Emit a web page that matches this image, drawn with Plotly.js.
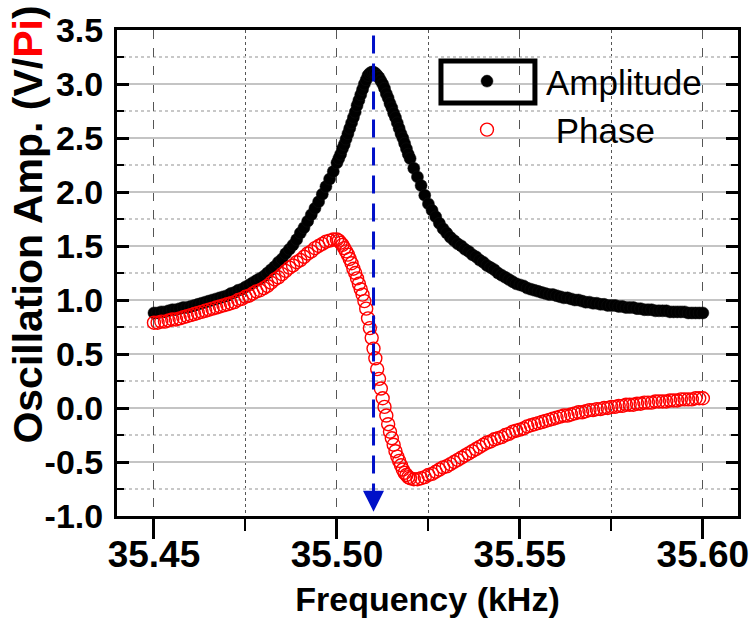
<!DOCTYPE html>
<html>
<head>
<meta charset="utf-8">
<script src="https://cdn.plot.ly/plotly-3.0.1.min.js"></script>
<style>html,body{margin:0;padding:0;background:#fff;}#chart{width:754px;height:618px;}</style>
</head>
<body>
<div id="chart"></div>
<script>
// Frequency samples (kHz)
const freq = [
  35.450, 35.451, 35.452, 35.453, 35.454, 35.455, 35.456, 35.457, 35.458, 35.459,
  35.460, 35.461, 35.462, 35.463, 35.464, 35.465, 35.466, 35.467, 35.468, 35.469,
  35.470, 35.471, 35.472, 35.473, 35.474, 35.475, 35.476, 35.477, 35.478, 35.479,
  35.480, 35.481, 35.482, 35.483, 35.484, 35.485, 35.486, 35.487, 35.488, 35.489,
  35.490, 35.491, 35.492, 35.493, 35.494, 35.495, 35.496, 35.497, 35.498, 35.499,
  35.5000, 35.5005, 35.5010, 35.5015, 35.5020, 35.5025, 35.5030, 35.5035, 35.5040, 35.5045,
  35.5050, 35.5055, 35.5060, 35.5065, 35.5070, 35.5075, 35.5080, 35.5085, 35.5090, 35.5095,
  35.5100, 35.5105, 35.5110, 35.5115, 35.5120, 35.5125, 35.5130, 35.5135, 35.5140, 35.5145,
  35.5150, 35.5155, 35.5160, 35.5165, 35.5170, 35.5175, 35.5180, 35.5185, 35.5190, 35.5195,
  35.5200,
  35.521, 35.522, 35.523, 35.524, 35.525, 35.526, 35.527, 35.528, 35.529, 35.530,
  35.531, 35.532, 35.533, 35.534, 35.535, 35.536, 35.537, 35.538, 35.539, 35.540,
  35.541, 35.542, 35.543, 35.544, 35.545, 35.546, 35.547, 35.548, 35.549, 35.550,
  35.551, 35.552, 35.553, 35.554, 35.555, 35.556, 35.557, 35.558, 35.559, 35.560,
  35.561, 35.562, 35.563, 35.564, 35.565, 35.566, 35.567, 35.568, 35.569, 35.570,
  35.571, 35.572, 35.573, 35.574, 35.575, 35.576, 35.577, 35.578, 35.579, 35.580,
  35.581, 35.582, 35.583, 35.584, 35.585, 35.586, 35.587, 35.588, 35.589, 35.590,
  35.591, 35.592, 35.593, 35.594, 35.595, 35.596, 35.597, 35.598, 35.599, 35.600
];

// Oscillation amplitude (V)
const amplitude = [
  0.88, 0.88, 0.89, 0.89, 0.90, 0.91, 0.91, 0.92, 0.93, 0.93,
  0.94, 0.95, 0.96, 0.97, 0.98, 0.99, 1.00, 1.01, 1.02, 1.03,
  1.04, 1.06, 1.07, 1.09, 1.10, 1.12, 1.14, 1.16, 1.18, 1.20,
  1.22, 1.25, 1.28, 1.31, 1.35, 1.38, 1.43, 1.47, 1.51, 1.56,
  1.62, 1.67, 1.73, 1.79, 1.85, 1.91, 1.98, 2.05, 2.12, 2.19,
  2.27, 2.31, 2.35, 2.40, 2.44, 2.49, 2.54, 2.59, 2.64, 2.69,
  2.74, 2.80, 2.85, 2.90, 2.95, 3.00, 3.04, 3.08, 3.10, 3.11,
  3.11, 3.10, 3.08, 3.06, 3.03, 3.00, 2.96, 2.91, 2.87, 2.82,
  2.78, 2.73, 2.69, 2.64, 2.59, 2.54, 2.50, 2.45, 2.40, 2.35,
  2.31,
  2.22, 2.14, 2.06, 1.97, 1.89, 1.83, 1.77, 1.71, 1.66, 1.62,
  1.58, 1.55, 1.52, 1.50, 1.47, 1.45, 1.42, 1.40, 1.37, 1.35,
  1.32, 1.30, 1.28, 1.25, 1.23, 1.21, 1.19, 1.17, 1.15, 1.14,
  1.13, 1.11, 1.10, 1.09, 1.08, 1.07, 1.06, 1.05, 1.05, 1.04,
  1.03, 1.02, 1.02, 1.01, 1.00, 1.00, 0.99, 0.98, 0.98, 0.97,
  0.97, 0.96, 0.96, 0.95, 0.95, 0.95, 0.94, 0.94, 0.93, 0.93,
  0.93, 0.92, 0.92, 0.91, 0.91, 0.91, 0.90, 0.90, 0.90, 0.90,
  0.89, 0.89, 0.89, 0.89, 0.89, 0.88, 0.88, 0.88, 0.88, 0.88
];

// Phase (Pi)
const phase = [
  0.79, 0.79, 0.80, 0.80, 0.81, 0.82, 0.82, 0.83, 0.84, 0.85,
  0.86, 0.87, 0.88, 0.89, 0.90, 0.91, 0.92, 0.93, 0.94, 0.95,
  0.96, 0.97, 0.98, 1.00, 1.01, 1.03, 1.04, 1.06, 1.08, 1.09,
  1.11, 1.13, 1.16, 1.19, 1.21, 1.24, 1.27, 1.30, 1.32, 1.35,
  1.37, 1.40, 1.43, 1.45, 1.48, 1.50, 1.52, 1.54, 1.55, 1.56,
  1.56, 1.55, 1.53, 1.51, 1.48, 1.45, 1.42, 1.38, 1.34, 1.29,
  1.25, 1.20, 1.15, 1.10, 1.05, 0.99, 0.92, 0.83, 0.74, 0.65,
  0.55, 0.46, 0.36, 0.27, 0.18, 0.09, 0.01, -0.07, -0.15, -0.22,
  -0.28, -0.34, -0.40, -0.45, -0.49, -0.53, -0.57, -0.60, -0.62, -0.64,
  -0.65,
  -0.66, -0.66, -0.65, -0.64, -0.62, -0.61, -0.59, -0.57, -0.55, -0.54,
  -0.52, -0.50, -0.48, -0.46, -0.44, -0.42, -0.40, -0.38, -0.36, -0.34,
  -0.32, -0.31, -0.29, -0.28, -0.27, -0.25, -0.24, -0.22, -0.21, -0.20,
  -0.19, -0.17, -0.16, -0.15, -0.14, -0.13, -0.12, -0.11, -0.10, -0.09,
  -0.08, -0.07, -0.07, -0.06, -0.05, -0.04, -0.04, -0.03, -0.02, -0.02,
  -0.01, -0.01, 0.00, 0.00, 0.01, 0.01, 0.02, 0.02, 0.03, 0.03,
  0.03, 0.04, 0.04, 0.05, 0.05, 0.05, 0.06, 0.06, 0.06, 0.06,
  0.07, 0.07, 0.07, 0.08, 0.08, 0.08, 0.08, 0.09, 0.09, 0.09
];

const resonanceFreq = 35.51;

const xTickVals = [35.45, 35.50, 35.55, 35.60];
const xTickText = ['35.45', '35.50', '35.55', '35.60'];
const xMinorVals = [35.475, 35.525, 35.575];
const yTickVals = [-1.0, -0.5, 0.0, 0.5, 1.0, 1.5, 2.0, 2.5, 3.0, 3.5];
const yTickText = ['-1.0', '-0.5', '0.0', '0.5', '1.0', '1.5', '2.0', '2.5', '3.0', '3.5'];
const seriesNames = ['Amplitude', '\u00a0Phase'];

const FONT = 'Liberation Sans, Arial, sans-serif';
const xRange = [35.4399, 35.6096];

const traces = [
  {
    x: freq, y: amplitude, type: 'scatter', mode: 'markers', name: seriesNames[0],
    marker: {symbol: 'circle', size: 12, color: '#000000', line: {color: '#111', width: 0.5}}
  },
  {
    x: freq, y: phase, type: 'scatter', mode: 'markers', name: seriesNames[1],
    marker: {symbol: 'circle-open', size: 13, color: '#ff0000', line: {width: 1.4}}
  }
];

const layout = {
  width: 754, height: 618,
  margin: {l: 117, r: 16, t: 30, b: 102},
  paper_bgcolor: '#ffffff', plot_bgcolor: '#ffffff',
  showlegend: true,
  legend: {
    x: 0.5008, y: 0.955, xanchor: 'left', yanchor: 'top',
    bgcolor: 'rgba(0,0,0,0)', borderwidth: 0,
    itemwidth: 108,
    font: {family: FONT, size: 35, color: '#000'}
  },
  xaxis: {
    range: xRange, tickvals: xTickVals, ticktext: xTickText,
    ticks: 'outside', ticklen: 20, tickwidth: 3, tickcolor: '#000',
    showline: true, linecolor: '#000', linewidth: 3, mirror: true,
    showgrid: true, gridcolor: '#555', gridwidth: 1, griddash: 'dash',
    zeroline: false, ticklabelstandoff: -16,
    tickfont: {family: FONT, size: 37, color: '#000', weight: 'bold'},
    minor: {tickvals: xMinorVals, ticks: 'outside', ticklen: 12, tickwidth: 2, tickcolor: '#000',
            showgrid: true, gridcolor: '#555', gridwidth: 1, griddash: 'dot'},
    title: {text: 'Frequency (kHz)', font: {family: FONT, size: 34, color: '#000', weight: 'bold'}, standoff: 22}
  },
  xaxis2: {
    overlaying: 'x', side: 'top', anchor: 'y', range: xRange,
    tickvals: xTickVals, ticks: 'inside', ticklen: 14, tickwidth: 3, tickcolor: '#000',
    showticklabels: false, showgrid: false, showline: false, zeroline: false,
    minor: {tickvals: xMinorVals, ticks: 'inside', ticklen: 7, tickwidth: 2, tickcolor: '#000', showgrid: false}
  },
  yaxis: {
    range: [-1.0, 3.5], tickvals: yTickVals, ticktext: yTickText,
    ticks: 'inside', ticklen: 12, tickwidth: 3, tickcolor: '#000',
    showline: true, linecolor: '#000', linewidth: 3, mirror: 'ticks',
    showgrid: true, gridcolor: '#c4c4c4', gridwidth: 2,
    zeroline: false, ticklabelstandoff: 4,
    tickfont: {family: FONT, size: 34, color: '#000', weight: 'bold'},
    minor: {dtick: 0.25, ticks: 'inside', ticklen: 7, tickwidth: 2, tickcolor: '#000',
            showgrid: true, gridcolor: '#c8c8c8', gridwidth: 1.5, griddash: 'dot'}
  },
  shapes: [
    {type: 'line', xref: 'x', yref: 'y', x0: resonanceFreq, x1: resonanceFreq, y0: 3.45, y1: -0.75,
     line: {color: '#0010c8', width: 3, dash: '18px,10px'}, layer: 'above'},
    {type: 'rect', xref: 'paper', yref: 'paper', x0: 0.5217, x1: 0.673, y0: 0.8498, y1: 0.936,
     line: {color: '#000', width: 5}, fillcolor: 'rgba(0,0,0,0)', layer: 'above'}
  ],
  annotations: [
    {x: resonanceFreq, y: -0.96, ax: resonanceFreq, ay: -0.72, xref: 'x', yref: 'y', axref: 'x', ayref: 'y',
     showarrow: true, arrowhead: 2, arrowsize: 1.4, arrowwidth: 3, arrowcolor: '#0010c8', text: ''},
    {xref: 'paper', yref: 'paper', x: -0.143, y: 0.60, xanchor: 'center', yanchor: 'middle',
     textangle: -90, showarrow: false,
     text: 'Oscillation Amp. (V/<span style="color:#ff0000">Pi</span>)',
     font: {family: FONT, size: 41, color: '#000', weight: 'bold'}}
  ]
};

Plotly.newPlot('chart', traces, layout, {staticPlot: true, displayModeBar: false});
</script>
</body>
</html>
